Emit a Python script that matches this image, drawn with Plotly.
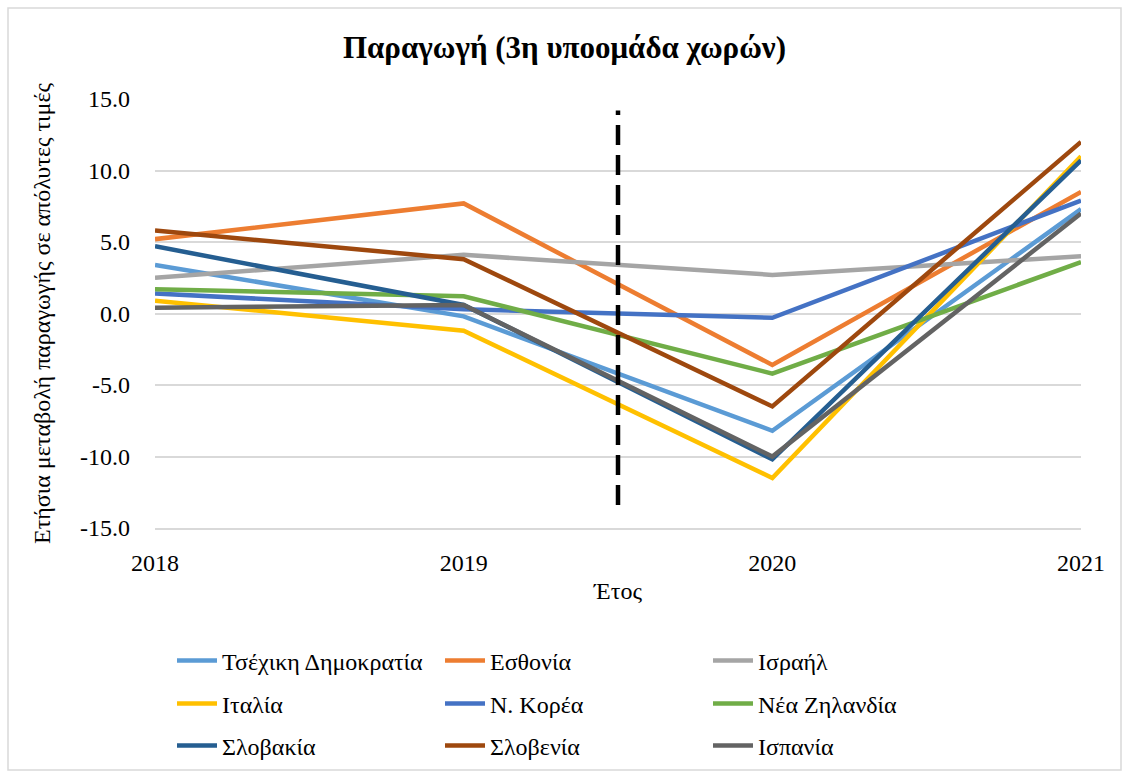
import plotly.graph_objects as go

years = [2018, 2019, 2020, 2021]
countries = ["Τσέχικη Δημοκρατία", "Εσθονία", "Ισραήλ", "Ιταλία", "Ν. Κορέα",
             "Νέα Ζηλανδία", "Σλοβακία", "Σλοβενία", "Ισπανία"]
czech = [3.4, -0.2, -8.2, 7.3]
estonia = [5.2, 7.7, -3.6, 8.5]
israel = [2.5, 4.1, 2.7, 4.0]
italy = [0.9, -1.2, -11.5, 11.0]
korea = [1.4, 0.3, -0.3, 7.9]
nz = [1.7, 1.2, -4.2, 3.6]
slovakia = [4.7, 0.6, -10.2, 10.7]
slovenia = [5.8, 3.8, -6.5, 12.0]
spain = [0.4, 0.6, -10.0, 7.0]
series = [czech, estonia, israel, italy, korea, nz, slovakia, slovenia, spain]
colors = ["#5B9BD5", "#ED7D31", "#A5A5A5", "#FFC000", "#4472C4",
          "#70AD47", "#255E91", "#9E480E", "#636363"]
divider_x = [2019.5, 2019.5]
divider_y = [-13.4, 14.2]
y_ticks = [-15, -10, -5, 0, 5, 10, 15]

FONT = "Liberation Serif, Times New Roman, serif"

W, H = 1129, 776
L, R, T, B = 155, 48, 99, 248
pw, ph = W - L - R, H - T - B

def px2x(p):
    return (p - L) / pw

def py2y(p):
    return (H - B - p) / ph

legend_ids = ["legend", "legend2", "legend3"]

fig = go.Figure()
for i, (name, vals, col) in enumerate(zip(countries, series, colors)):
    fig.add_trace(go.Scatter(x=years, y=vals, name=name, mode="lines",
                             legend=legend_ids[i // 3],
                             line=dict(color=col, width=4.5)))
fig.add_trace(go.Scatter(x=divider_x, y=divider_y, mode="lines", showlegend=False,
                         line=dict(color="black", width=4.5, dash="20px,10px"),
                         hoverinfo="skip"))

fig.add_shape(type="rect", xref="paper", yref="paper",
              x0=px2x(8), x1=px2x(1121), y0=py2y(770), y1=py2y(8),
              line=dict(color="#d9d9d9", width=1.5), fillcolor="rgba(0,0,0,0)", layer="below")

legend_common = dict(orientation="h", x=px2x(172), xanchor="left", yanchor="middle",
                     entrywidth=213, entrywidthmode="pixels",
                     font=dict(family=FONT, size=24, color="black"),
                     itemwidth=40, traceorder="normal", bgcolor="rgba(0,0,0,0)")
row_y = [661, 704, 746]

fig.update_layout(
    width=W, height=H,
    margin=dict(l=L, r=R, t=T, b=B, autoexpand=False),
    paper_bgcolor="white", plot_bgcolor="white",
    font=dict(family=FONT, size=24, color="black"),
    title=dict(text="<b>Παραγωγή (3η υποομάδα χωρών)</b>", x=0.5, xref="container",
               xanchor="center", y=1 - 47 / H, yref="container", yanchor="middle",
               font=dict(family=FONT, size=31, color="black")),
    xaxis=dict(range=[2018, 2021], tickvals=years, ticktext=[str(y) for y in years],
               showgrid=False, zeroline=False, showline=True, linecolor="#d9d9d9",
               linewidth=1.5, tickfont=dict(family=FONT, size=24), ticks="",
               ticklabelstandoff=12,
               title=dict(text="Έτος", font=dict(family=FONT, size=24), standoff=8)),
    yaxis=dict(range=[-15, 15], tickvals=y_ticks, ticktext=[f"{v:.1f}" for v in y_ticks],
               showgrid=True, gridcolor="#d9d9d9", gridwidth=1.5, zeroline=True,
               zerolinecolor="#d9d9d9", zerolinewidth=1.5, showline=False,
               tickfont=dict(family=FONT, size=24), ticks="", ticklabelstandoff=24,
               title=dict(text="Ετήσια μεταβολή παραγωγής σε απόλυτες τιμές",
                          font=dict(family=FONT, size=24), standoff=22)),
    legend=dict(legend_common, y=py2y(row_y[0])),
    legend2=dict(legend_common, y=py2y(row_y[1])),
    legend3=dict(legend_common, y=py2y(row_y[2])),
    showlegend=True,
)

fig.write_html("out.html", config={"displayModeBar": False},
               post_script="document.body.style.margin='0';document.body.style.overflow='hidden';")
